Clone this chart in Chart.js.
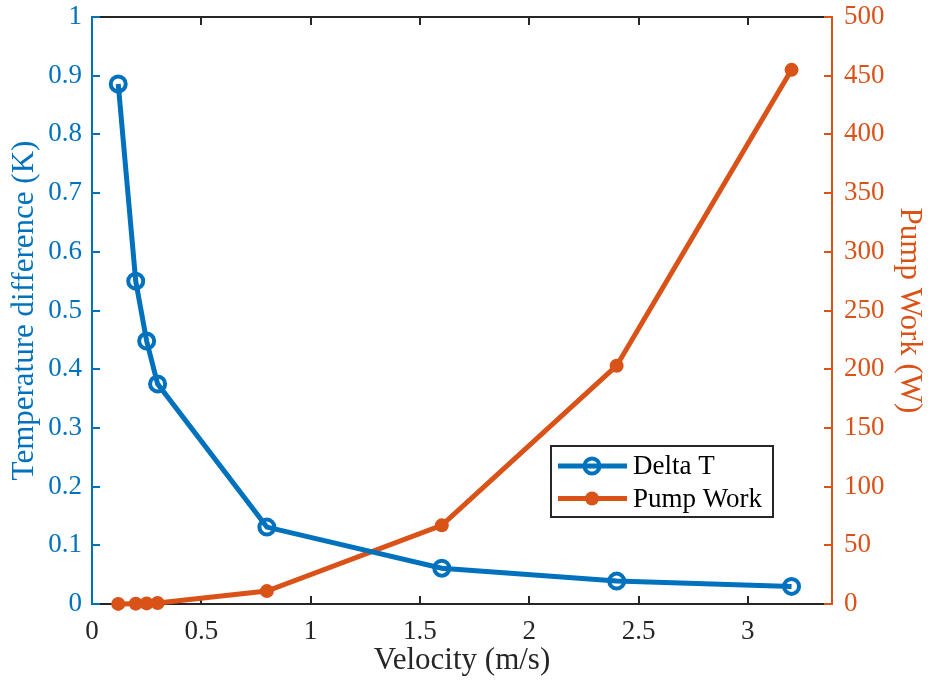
<!DOCTYPE html>
<html>
<head>
<meta charset="utf-8">
<script src="https://cdn.jsdelivr.net/npm/chart.js@4"></script>
<style>
  html, body { margin: 0; padding: 0; background: #fff; }
  #wrap { width: 928px; height: 681px; }
</style>
</head>
<body>
<div id="wrap"><canvas id="chart"></canvas></div>
<script>
'use strict';

// data
const velocity = [0.12, 0.2, 0.25, 0.3, 0.8, 1.6, 2.4, 3.2];
const deltaT = [0.886, 0.55, 0.448, 0.375, 0.131, 0.061, 0.039, 0.03];
const pumpWork = [0.1, 0.3, 0.5, 0.8, 11, 67, 203, 455];

const xTicks = [0, 0.5, 1, 1.5, 2, 2.5, 3];
const leftTicks = [0, 0.1, 0.2, 0.3, 0.4, 0.5, 0.6, 0.7, 0.8, 0.9, 1];
const rightTicks = [0, 50, 100, 150, 200, 250, 300, 350, 400, 450, 500];

const BLUE = '#0072BD';
const ORANGE = '#D95319';
const AXIS = '#262626';
const FONT = "'Liberation Serif', 'Times New Roman', serif";

const pts = ys => velocity.map((x, i) => ({ x, y: ys[i] }));
const setTicks = arr => scale => { scale.ticks = arr.map(v => ({ value: v })); };
// fixed axis box sizes, no extra label overhang padding
const fitY = w => s => { s.width = w; s.paddingTop = 0; s.paddingBottom = 0; };
const fitX = h => s => { s.height = h; s.paddingLeft = 0; s.paddingRight = 0; };

// MATLAB-style inward ticks, top box line and legend
const matlabFrame = {
    id: 'matlabFrame',
    beforeDatasetsDraw(chart) {
        const { ctx, chartArea: a, scales } = chart;
        const len = 8;
        ctx.save();
        ctx.lineWidth = 2;
        // top line
        ctx.strokeStyle = AXIS;
        ctx.beginPath();
        ctx.moveTo(a.left, a.top);
        ctx.lineTo(a.right, a.top);
        ctx.stroke();
        // x ticks bottom + top
        scales.x.ticks.forEach(t => {
            const px = Math.round(scales.x.getPixelForValue(t.value));
            if (px <= a.left + 1 || px >= a.right - 1) return;
            ctx.beginPath();
            ctx.moveTo(px, a.bottom); ctx.lineTo(px, a.bottom - len);
            ctx.moveTo(px, a.top); ctx.lineTo(px, a.top + len);
            ctx.stroke();
        });
        // left ticks
        ctx.strokeStyle = BLUE;
        scales.y.ticks.forEach(t => {
            const py = Math.round(scales.y.getPixelForValue(t.value));
            ctx.beginPath();
            ctx.moveTo(a.left, py); ctx.lineTo(a.left + len, py);
            ctx.stroke();
        });
        // right ticks
        ctx.strokeStyle = ORANGE;
        scales.y1.ticks.forEach(t => {
            const py = Math.round(scales.y1.getPixelForValue(t.value));
            ctx.beginPath();
            ctx.moveTo(a.right, py); ctx.lineTo(a.right - len, py);
            ctx.stroke();
        });
        ctx.restore();
    },
    afterDraw(chart) {
        const { ctx, chartArea: a } = chart;
        const bx = a.right - 281, by = 446, bw = 222, bh = 71;
        ctx.save();
        ctx.fillStyle = '#fff';
        ctx.fillRect(bx, by, bw, bh);
        ctx.strokeStyle = AXIS;
        ctx.lineWidth = 2;
        ctx.strokeRect(bx, by, bw, bh);
        ctx.font = '27px ' + FONT;
        ctx.textBaseline = 'middle';
        chart.data.datasets.forEach((ds, i) => {
            const y = by + 20 + i * 32.5;
            ctx.strokeStyle = ds.borderColor;
            ctx.lineWidth = 5;
            ctx.beginPath();
            ctx.moveTo(bx + 7, y); ctx.lineTo(bx + 76, y);
            ctx.stroke();
            ctx.beginPath();
            if (ds.pointBackgroundColor === 'transparent') {
                ctx.arc(bx + 41, y, 7.5, 0, Math.PI * 2);
                ctx.lineWidth = 4;
                ctx.stroke();
            } else {
                ctx.arc(bx + 41, y, 7, 0, Math.PI * 2);
                ctx.fillStyle = ds.borderColor;
                ctx.fill();
            }
            ctx.fillStyle = '#000';
            ctx.fillText(ds.label, bx + 82, y + 1);
        });
        ctx.restore();
    }
};

new Chart(document.getElementById('chart'), {
    type: 'line',
    data: {
        datasets: [
            { label: 'Delta T', data: pts(deltaT), yAxisID: 'y', borderColor: BLUE, borderWidth: 5, pointRadius: 7.5, pointHoverRadius: 7.5, pointBorderWidth: 4, pointBackgroundColor: 'transparent', pointBorderColor: BLUE, tension: 0, clip: false },
            { label: 'Pump Work', data: pts(pumpWork), yAxisID: 'y1', borderColor: ORANGE, borderWidth: 5, pointRadius: 7, pointHoverRadius: 7, pointBorderWidth: 0, pointBackgroundColor: ORANGE, pointBorderColor: ORANGE, tension: 0, clip: false },
        ],
    },
    options: {
        responsive: true, maintainAspectRatio: false, animation: false,
        layout: { padding: { top: 17, left: 0, right: 0, bottom: 0 } },
        plugins: { legend: { display: false }, tooltip: { enabled: false } },
        scales: {
            x: {
                type: 'linear', min: 0, max: 3.385,
                afterBuildTicks: setTicks(xTicks),
                afterFit: fitX(77),
                grid: { display: false, drawTicks: false },
                border: { display: true, color: AXIS, width: 2 },
                ticks: { color: AXIS, autoSkip: false, maxRotation: 0, padding: 12, font: { family: FONT, size: 27 }, callback: v => String(v) },
                title: { display: true, text: 'Velocity (m/s)', color: AXIS, font: { family: FONT, size: 31 }, padding: { top: 0, bottom: 2 } },
            },
            y: {
                type: 'linear', position: 'left', min: 0, max: 1,
                afterBuildTicks: setTicks(leftTicks),
                afterFit: fitY(92),
                grid: { display: false, drawTicks: false },
                border: { display: true, color: BLUE, width: 2 },
                ticks: { color: BLUE, autoSkip: false, padding: 10, font: { family: FONT, size: 27 }, callback: v => String(v) },
                title: { display: true, text: 'Temperature difference (K)', color: BLUE, font: { family: FONT, size: 31 }, padding: { top: 6, bottom: 0 } },
            },
            y1: {
                type: 'linear', position: 'right', min: 0, max: 500,
                afterBuildTicks: setTicks(rightTicks),
                afterFit: fitY(96),
                grid: { display: false, drawTicks: false },
                border: { display: true, color: ORANGE, width: 2 },
                ticks: { color: ORANGE, autoSkip: false, padding: 12, font: { family: FONT, size: 27 }, callback: v => String(v) },
                title: { display: true, text: 'Pump Work (W)', color: ORANGE, font: { family: FONT, size: 31 }, padding: { top: 0, bottom: 0 } },
            },
        },
    },
    plugins: [matlabFrame],
});
</script>
</body>
</html>
